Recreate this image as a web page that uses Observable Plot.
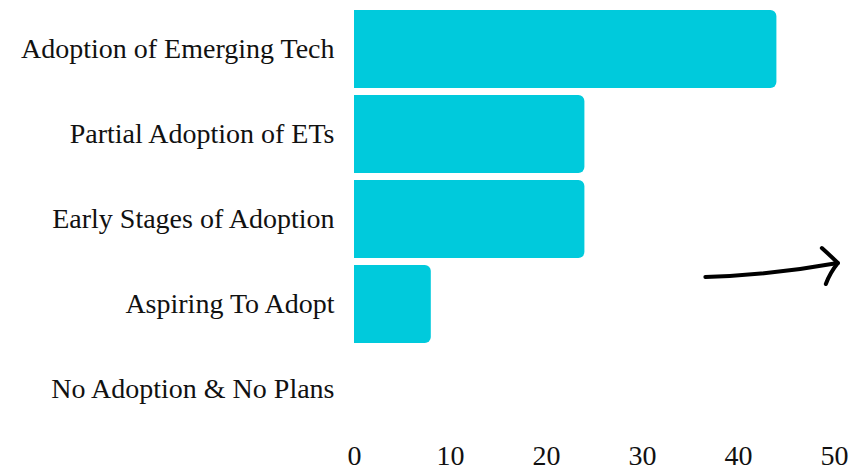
<!DOCTYPE html>
<html>
<head>
<meta charset="utf-8">
<script src="https://cdn.jsdelivr.net/npm/d3@7"></script>
<script src="https://cdn.jsdelivr.net/npm/@observablehq/plot@0.6"></script>
<style>
  html, body { margin: 0; padding: 0; background: #fff; }
  #chart svg { display: block; }
</style>
</head>
<body>
<div id="chart"></div>
<script>
const categories = [
  "Adoption of Emerging Tech",
  "Partial Adoption of ETs",
  "Early Stages of Adoption",
  "Aspiring To Adopt",
  "No Adoption & No Plans"
];
const values = [44, 24, 24, 8, 0];
const xTicks = [0, 10, 20, 30, 40, 50];
// hand-drawn arrow annotation (x in data units)
const arrowX = [36.6, 50.4];

const data = categories.map((c, i) => ({category: c, value: values[i]}));

const FONT = "Liberation Serif";
const plot = Plot.plot({
  width: 852,
  height: 470,
  marginLeft: 354,
  marginRight: 18,
  marginTop: 3,
  marginBottom: 35,
  style: {fontFamily: FONT, fontSize: "28px", color: "#111", background: "#fff"},
  x: {domain: [0, 50], ticks: xTicks, tickSize: 0, tickPadding: 10, label: null, tickFormat: d => String(d)},
  y: {domain: categories, padding: 0.08, tickSize: 0, tickPadding: 20, label: null},
  marks: [
    Plot.barX(data, {
      x: "value", y: "category", fill: "#00CADC",
      rx: 6, insetLeft: -10, clip: true
    })
  ]
});
document.getElementById("chart").appendChild(plot);

// draw the arrow using the plot's own scales
const sx = plot.scale("x"), sy = plot.scale("y");
const yBand = sy.apply("Aspiring To Adopt");
const xa = sx.apply(arrowX[0]), xb = sx.apply(arrowX[1]);
const ya = yBand + 12, yb = yBand - 2;
const svg = d3.select(plot);
const g = svg.append("g").attr("fill", "none").attr("stroke", "#000")
  .attr("stroke-width", 4).attr("stroke-linecap", "round").attr("stroke-linejoin", "round");
g.append("path").attr("d", `M${xa},${ya} Q${(xa+xb)/2},${ya-2} ${xb},${yb}`);
g.append("path").attr("d", `M${xb-16},${yb-15} Q${xb-6},${yb-6} ${xb},${yb} Q${xb-8},${yb+10} ${xb-12},${yb+21}`);
</script>
</body>
</html>
